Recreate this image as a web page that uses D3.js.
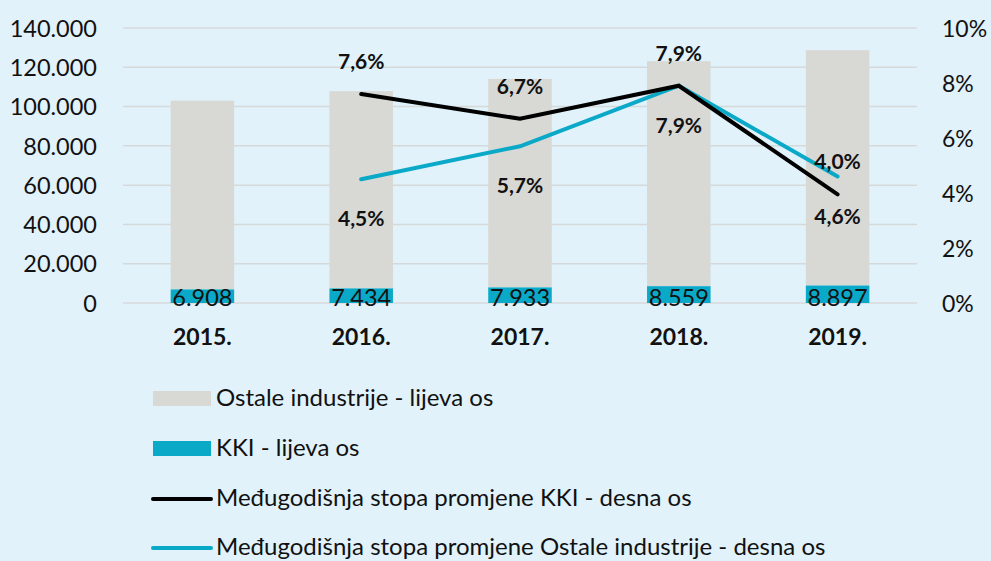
<!DOCTYPE html>
<html>
<head>
<meta charset="utf-8">
<script src="https://cdn.jsdelivr.net/npm/d3@7"></script>
<style>
  body { margin: 0; background: #e1f2fa; }
  svg { display: block; font-family: Lato, "Open Sans", sans-serif; }
</style>
</head>
<body>
<script>
// data
var years = ["2015.", "2016.", "2017.", "2018.", "2019."];
var kki = [6908, 7434, 7933, 8559, 8897];
var ostale = [96100, 100425, 106150, 114536, 119805];
var kkiRate = [null, 7.6, 6.7, 7.9, 3.95];
var ostaleRate = [null, 4.5, 5.7, 7.9, 4.6];
var kkiRateLabels = [null, "7,6%", "6,7%", "7,9%", "4,0%"];
var ostaleRateLabels = [null, "4,5%", "5,7%", "7,9%", "4,6%"];
var leftTicks = [0, 20000, 40000, 60000, 80000, 100000, 120000, 140000];
var rightTicks = [0, 2, 4, 6, 8, 10];
var legendNames = ["Ostale industrije - lijeva os", "KKI - lijeva os",
  "Međugodišnja stopa promjene KKI - desna os",
  "Međugodišnja stopa promjene Ostale industrije - desna os"];

var W = 991, H = 561;
var svg = d3.select("body").append("svg").attr("width", W).attr("height", H);
svg.append("rect").attr("width", W).attr("height", H).attr("fill", "#e1f2fa");

var x = d3.scaleBand().domain(years).range([123, 917]).paddingInner(0.6).paddingOuter(0.3);
var yL = d3.scaleLinear().domain([0, 140000]).range([303, 28]);
var yR = d3.scaleLinear().domain([0, 10]).range([303, 28]);
var fmt = function(v){ return d3.format(",")(v).replace(/,/g, "."); };

// gridlines
svg.append("g").selectAll("line").data(leftTicks).enter().append("line")
  .attr("x1", 123).attr("x2", 917)
  .attr("y1", function(d){ return yL(d); }).attr("y2", function(d){ return yL(d); })
  .attr("stroke", "#d6d9da").attr("stroke-width", 1.5);

// left axis
var axL = svg.append("g").attr("transform", "translate(115,0)")
  .call(d3.axisLeft(yL).tickValues(leftTicks).tickSize(0).tickPadding(0).tickFormat(fmt));
axL.select(".domain").remove();
axL.selectAll("text").attr("font-size", 23.5).attr("fill", "#111").attr("font-family", "Lato").attr("dy", "0.35em").attr("x", -18);

// right axis
var axR = svg.append("g").attr("transform", "translate(942,0)")
  .call(d3.axisRight(yR).tickValues(rightTicks).tickSize(0).tickPadding(0).tickFormat(function(d){ return d + "%"; }));
axR.select(".domain").remove();
axR.selectAll("text").attr("font-size", 23).attr("fill", "#111").attr("font-family", "Lato").attr("dy", "0.35em");

// stacked bars
var bw = x.bandwidth();
svg.append("g").selectAll("rect").data(years).enter().append("rect")
  .attr("x", function(d){ return x(d); }).attr("width", bw)
  .attr("y", function(d, i){ return yL(kki[i] + ostale[i]); })
  .attr("height", function(d, i){ return yL(kki[i]) - yL(kki[i] + ostale[i]); })
  .attr("fill", "#d8d8d4");
svg.append("g").selectAll("rect").data(years).enter().append("rect")
  .attr("x", function(d){ return x(d); }).attr("width", bw)
  .attr("y", function(d, i){ return yL(kki[i]); })
  .attr("height", function(d, i){ return yL(0) - yL(kki[i]); })
  .attr("fill", "#0aa9c8");

// KKI value labels
svg.append("g").selectAll("text").data(years).enter().append("text")
  .attr("x", function(d){ return x(d) + bw / 2; }).attr("y", 306)
  .attr("text-anchor", "middle").attr("font-size", 23.5).attr("fill", "#111")
  .text(function(d, i){ return fmt(kki[i]); });

// x labels
svg.append("g").selectAll("text").data(years).enter().append("text")
  .attr("x", function(d){ return x(d) + bw / 2; }).attr("y", 345)
  .attr("text-anchor", "middle").attr("font-size", 23).attr("font-weight", "bold").attr("fill", "#111")
  .text(function(d){ return d; });

// lines
var cx = function(i){ return x(years[i]) + bw / 2; };
function drawLine(vals, color) {
  var pts = vals.map(function(v, i){ return [i, v]; }).filter(function(p){ return p[1] !== null; });
  svg.append("path").datum(pts)
    .attr("d", d3.line().x(function(p){ return cx(p[0]); }).y(function(p){ return yR(p[1]); }))
    .attr("fill", "none").attr("stroke", color).attr("stroke-width", 4).attr("stroke-linecap", "round");
}
drawLine(ostaleRate, "#0aa9c8");
drawLine(kkiRate, "#000");

function drawLabels(vals, labels, dy) {
  svg.append("g").selectAll("text").data(vals).enter()
    .filter(function(v){ return v !== null; })
    .append("text")
    .attr("x", function(v){ return cx(vals.indexOf(v)); })
    .attr("y", function(v){ return yR(v) + dy; })
    .attr("text-anchor", "middle").attr("font-size", 21).attr("font-weight", "bold").attr("fill", "#111")
    .text(function(v){ return labels[vals.indexOf(v)]; });
}
drawLabels(kkiRate, kkiRateLabels, -25);
drawLabels(ostaleRate, ostaleRateLabels, 47);

// legend
var lg = svg.append("g");
var rows = [398.5, 448.5, 499, 548];
lg.append("rect").attr("x", 153).attr("y", rows[0] - 7.5).attr("width", 58).attr("height", 15).attr("fill", "#d8d8d4");
lg.append("rect").attr("x", 153).attr("y", rows[1] - 7.5).attr("width", 58).attr("height", 15).attr("fill", "#0aa9c8");
lg.append("line").attr("x1", 153).attr("x2", 211).attr("y1", rows[2]).attr("y2", rows[2])
  .attr("stroke", "#000").attr("stroke-width", 4).attr("stroke-linecap", "round");
lg.append("line").attr("x1", 153).attr("x2", 211).attr("y1", rows[3]).attr("y2", rows[3])
  .attr("stroke", "#0aa9c8").attr("stroke-width", 4).attr("stroke-linecap", "round");
lg.selectAll("text").data(legendNames).enter().append("text")
  .attr("x", 216).attr("y", function(d, i){ return rows[i] + 7; })
  .attr("font-size", 24).attr("fill", "#111")
  .text(function(d){ return d; });
</script>
</body>
</html>
